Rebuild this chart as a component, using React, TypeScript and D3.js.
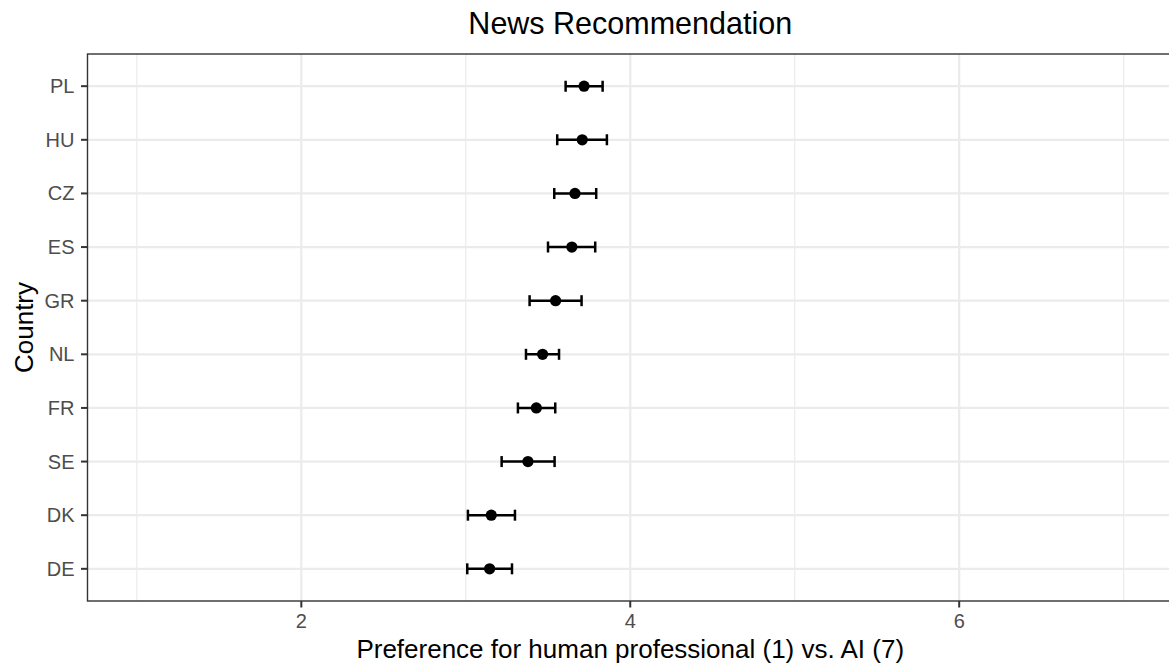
import React from "react";
import * as d3 from "d3";

const countries = ["PL", "HU", "CZ", "ES", "GR", "NL", "FR", "SE", "DK", "DE"];
const means = [3.719, 3.708, 3.664, 3.645, 3.546, 3.467, 3.429, 3.378, 3.155, 3.145];
const lowers = [3.607, 3.556, 3.538, 3.5, 3.388, 3.366, 3.317, 3.218, 3.013, 3.009];
const uppers = [3.832, 3.858, 3.793, 3.787, 3.704, 3.567, 3.544, 3.54, 3.299, 3.281];
const xMajorTicks = [2, 4, 6];
const xMinorTicks = [1, 3, 5, 7];
const titleText = "News Recommendation";
const xTitle = "Preference for human professional (1) vs. AI (7)";
const yTitle = "Country";

const W = 1169;
const H = 669;
const FONT = "'Liberation Sans', Arial, Helvetica, sans-serif";

export default function App() {
  const left = 87.5;
  const right = 1173;
  const top = 54;
  const bottom = 601;

  const x = d3.scaleLinear().domain([0.7, 7.3]).range([left, right]);
  // discrete y with 0.6 expansion: positions 1..10, domain 0.4..10.6
  const yIdx = d3.scaleLinear().domain([0.4, 10.6]).range([bottom, top]);
  const y = (c: string) => yIdx(countries.length - countries.indexOf(c));

  const capH = 5.5;

  return (
    <div style={{ position: "absolute", left: 0, top: 0 }}>
      <svg width={W} height={H} style={{ display: "block", background: "#fff" }}>
        <rect x={0} y={0} width={W} height={H} fill="#fff" />
        <clipPath id="panel">
          <rect x={left} y={top} width={right - left} height={bottom - top} />
        </clipPath>
        <g clipPath="url(#panel)">
          {xMinorTicks.map((t) => (
            <line key={"mn" + t} x1={x(t)} x2={x(t)} y1={top} y2={bottom} stroke="#EBEBEB" strokeWidth={1.2} />
          ))}
          {xMajorTicks.map((t) => (
            <line key={"mj" + t} x1={x(t)} x2={x(t)} y1={top} y2={bottom} stroke="#EBEBEB" strokeWidth={2.2} />
          ))}
          {countries.map((c) => (
            <line key={"gy" + c} x1={left} x2={right} y1={y(c)} y2={y(c)} stroke="#EBEBEB" strokeWidth={2.2} />
          ))}
          {countries.map((c, i) => (
            <g key={"eb" + c} stroke="#000" strokeWidth={2.5}>
              <line x1={x(lowers[i])} x2={x(uppers[i])} y1={y(c)} y2={y(c)} />
              <line x1={x(lowers[i])} x2={x(lowers[i])} y1={y(c) - capH} y2={y(c) + capH} />
              <line x1={x(uppers[i])} x2={x(uppers[i])} y1={y(c) - capH} y2={y(c) + capH} />
            </g>
          ))}
          {countries.map((c, i) => (
            <circle key={"pt" + c} cx={x(means[i])} cy={y(c)} r={5.6} fill="#000" />
          ))}
        </g>
        <rect x={left} y={top} width={right - left} height={bottom - top} fill="none" stroke="#333333" strokeWidth={1.4} />
        {countries.map((c) => (
          <g key={"yt" + c}>
            <line x1={left - 6.5} x2={left} y1={y(c)} y2={y(c)} stroke="#333333" strokeWidth={2} />
            <text x={74.5} y={y(c)} dy="0.35em" textAnchor="end" fontFamily={FONT} fontSize={20} fill="#4D4D4D">
              {c}
            </text>
          </g>
        ))}
        {xMajorTicks.map((t) => (
          <g key={"xt" + t}>
            <line x1={x(t)} x2={x(t)} y1={bottom} y2={bottom + 6.5} stroke="#333333" strokeWidth={2} />
            <text x={x(t)} y={628} textAnchor="middle" fontFamily={FONT} fontSize={20} fill="#4D4D4D">
              {t}
            </text>
          </g>
        ))}
        <text x={(left + right) / 2} y={658} textAnchor="middle" fontFamily={FONT} fontSize={26} fill="#000">
          {xTitle}
        </text>
        <text
          transform={`translate(33, ${(top + bottom) / 2}) rotate(-90)`}
          textAnchor="middle"
          fontFamily={FONT}
          fontSize={26}
          fill="#000"
        >
          {yTitle}
        </text>
        <text x={(left + right) / 2} y={34} textAnchor="middle" fontFamily={FONT} fontSize={30.5} fill="#000">
          {titleText}
        </text>
      </svg>
    </div>
  );
}
